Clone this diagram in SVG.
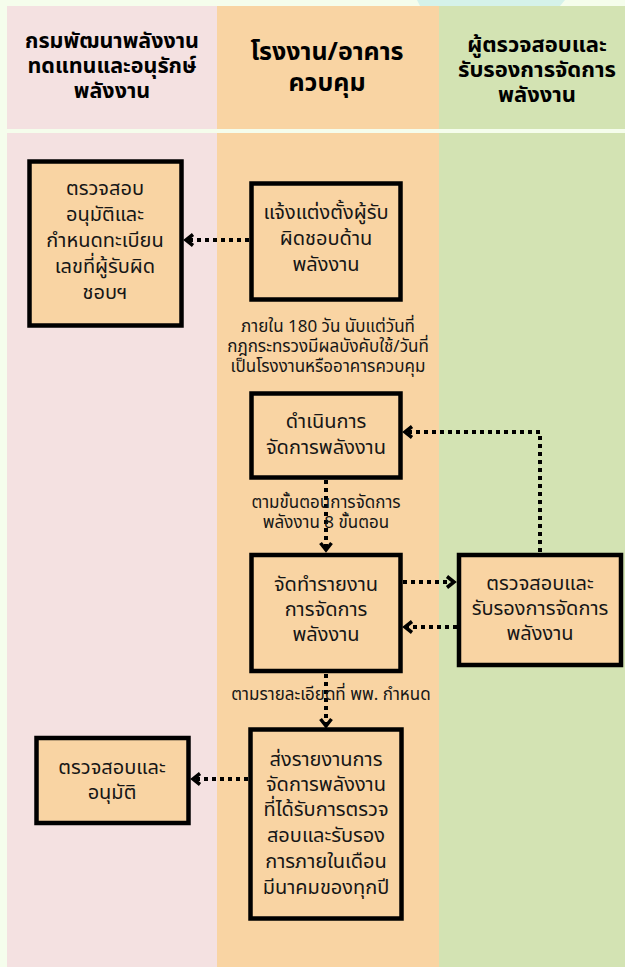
<svg xmlns="http://www.w3.org/2000/svg" width="625" height="967" viewBox="0 0 625 967">
<defs>
<style>
.t{font-family:"Noto Sans Thai","Noto Sans","DejaVu Sans",sans-serif;fill:#161616;text-anchor:middle;dominant-baseline:central}
.h{font-weight:bold;fill:#000}
.n{font-size:20px}
.a{font-size:17px}
.box{fill:#f9d4a3;stroke:#000;stroke-width:4.5}
.c{fill:none;stroke:#000;stroke-width:4;stroke-dasharray:4 4}
</style>
<marker id="ah" markerWidth="12" markerHeight="14" refX="9" refY="7" orient="auto" markerUnits="userSpaceOnUse">
<path d="M2,1.5 L9,7 L2,12.5" fill="none" stroke="#000" stroke-width="3.5"/>
</marker>
</defs>
<rect x="0" y="0" width="625" height="967" fill="#f5fdec"/>
<polygon points="417,0 565,0 560,6 420,6" fill="#d5f2ea"/>
<g id="lanes">
<rect x="7" y="6" width="210" height="123" fill="#f4e1e1"/>
<rect x="217" y="6" width="222" height="123" fill="#f9d4a3"/>
<rect x="439" y="6" width="186" height="123" fill="#d3e3b3"/>
<rect x="7" y="133" width="210" height="834" fill="#f4e1e1"/>
<rect x="217" y="133" width="222" height="834" fill="#f9d4a3"/>
<rect x="439" y="133" width="186" height="834" fill="#d3e3b3"/>
</g>
<g id="headers">
<text class="t h" font-size="21.5"><tspan x="112" y="41">กรมพัฒนาพลังงาน</tspan><tspan x="112" y="66">ทดแทนและอนุรักษ์</tspan><tspan x="112" y="91">พลังงาน</tspan></text>
<text class="t h" font-size="25"><tspan x="327" y="52">โรงงาน/อาคาร</tspan><tspan x="327" y="83">ควบคุม</tspan></text>
<text class="t h" font-size="22"><tspan x="537" y="45">ผู้ตรวจสอบและ</tspan><tspan x="537" y="70">รับรองการจัดการ</tspan><tspan x="537" y="95">พลังงาน</tspan></text>
</g>
<g id="connectors">
<path class="c" d="M249,240 H186" marker-end="url(#ah)"/>
<path class="c" d="M326,480 V550" marker-end="url(#ah)"/>
<path class="c" d="M403,582 H454" marker-end="url(#ah)"/>
<path class="c" d="M457,627 H405" marker-end="url(#ah)"/>
<path class="c" d="M540,552 V432 H405" marker-end="url(#ah)"/>
<path class="c" d="M326,674 V726" marker-end="url(#ah)"/>
<path class="c" d="M248,779 H193" marker-end="url(#ah)"/>
</g>
<g id="labels">
<text class="t a"><tspan x="328" y="327">ภายใน 180 วัน นับแต่วันที่</tspan><tspan x="328" y="347">กฎกระทรวงมีผลบังคับใช้/วันที่</tspan><tspan x="328" y="367">เป็นโรงงานหรืออาคารควบคุม</tspan></text>
<text class="t a"><tspan x="326" y="503">ตามขั้นตอนการจัดการ</tspan><tspan x="326" y="523">พลังงาน 8 ขั้นตอน</tspan></text>
<text class="t a"><tspan x="331" y="695">ตามรายละเอียดที่ พพ. กำหนด</tspan></text>
</g>
<g id="n1">
<rect class="box" x="251.5" y="183.5" width="149" height="116"/>
<text class="t n"><tspan x="326" y="213">แจ้งแต่งตั้งผู้รับ</tspan><tspan x="326" y="239">ผิดชอบด้าน</tspan><tspan x="326" y="265">พลังงาน</tspan></text>
</g>
<g id="n2">
<rect class="box" x="29.5" y="161.5" width="152" height="164"/>
<text class="t n"><tspan x="105" y="189">ตรวจสอบ</tspan><tspan x="105" y="215">อนุมัติและ</tspan><tspan x="105" y="241">กำหนดทะเบียน</tspan><tspan x="105" y="267">เลขที่ผู้รับผิด</tspan><tspan x="105" y="293">ชอบฯ</tspan></text>
</g>
<g id="n3">
<rect class="box" x="251.5" y="393.5" width="149" height="84"/>
<text class="t n"><tspan x="326" y="422">ดำเนินการ</tspan><tspan x="326" y="448">จัดการพลังงาน</tspan></text>
</g>
<g id="n4">
<rect class="box" x="251.5" y="555" width="149" height="116"/>
<text class="t n"><tspan x="326" y="585">จัดทำรายงาน</tspan><tspan x="326" y="610">การจัดการ</tspan><tspan x="326" y="635">พลังงาน</tspan></text>
</g>
<g id="n5">
<rect class="box" x="459" y="555" width="162" height="110"/>
<text class="t n"><tspan x="540" y="584">ตรวจสอบและ</tspan><tspan x="540" y="609">รับรองการจัดการ</tspan><tspan x="540" y="634">พลังงาน</tspan></text>
</g>
<g id="n6">
<rect class="box" x="250.5" y="729.5" width="151" height="189"/>
<text class="t n"><tspan x="326" y="760">ส่งรายงานการ</tspan><tspan x="326" y="785">จัดการพลังงาน</tspan><tspan x="326" y="810">ที่ได้รับการตรวจ</tspan><tspan x="326" y="836">สอบและรับรอง</tspan><tspan x="326" y="862">การภายในเดือน</tspan><tspan x="326" y="888">มีนาคมของทุกปี</tspan></text>
</g>
<g id="n7">
<rect class="box" x="36.5" y="738" width="152" height="85"/>
<text class="t n"><tspan x="112" y="768">ตรวจสอบและ</tspan><tspan x="112" y="793">อนุมัติ</tspan></text>
</g>
</svg>
